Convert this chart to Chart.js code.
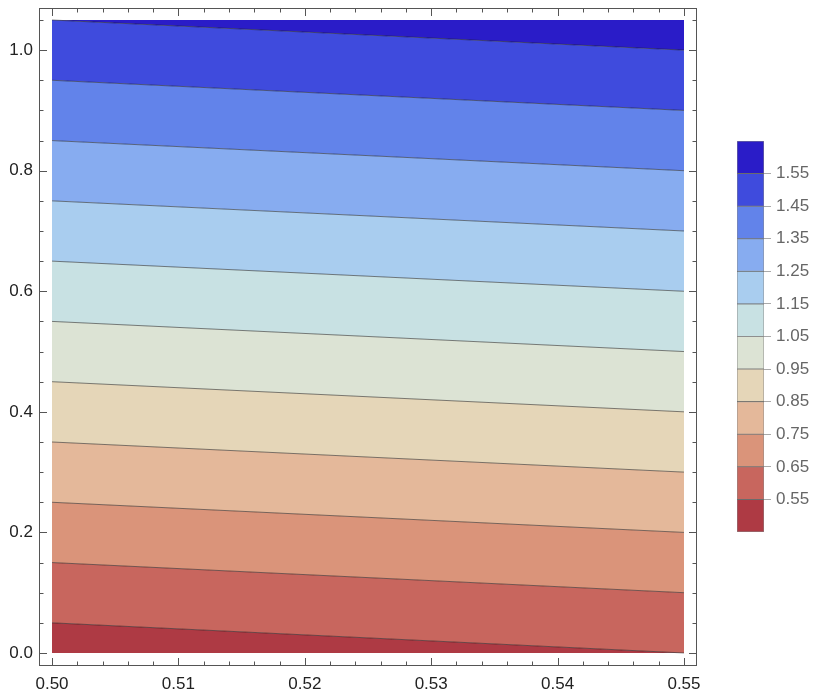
<!DOCTYPE html>
<html>
<head>
<meta charset="utf-8">
<title>Contour plot</title>
<script src="https://cdn.jsdelivr.net/npm/chart.js@4.4.1/dist/chart.umd.min.js"></script>
<style>
  html, body { margin: 0; padding: 0; background: #fff; }
  #wrap { position: relative; width: 814px; height: 691px; }
  #plot { position: absolute; left: 0; top: 0; }
  #bar { position: absolute; left: 737px; top: 131px; }
</style>
</head>
<body>
<div id="wrap">
  <canvas id="plot" width="814" height="691"></canvas>
  <canvas id="bar" width="77" height="410"></canvas>
</div>
<script>
// contour levels, and where each level line meets the left (x = 0.50) and right (x = 0.55) edge
const levels      = [0.55, 0.65, 0.75, 0.85, 0.95, 1.05, 1.15, 1.25, 1.35, 1.45, 1.55];
const levelYLeft  = [0.05, 0.15, 0.25, 0.35, 0.45, 0.55, 0.65, 0.75, 0.85, 0.95, 1.05];
const levelYRight = [0.00, 0.10, 0.20, 0.30, 0.40, 0.50, 0.60, 0.70, 0.80, 0.90, 1.00];

// plotted region
const xEdges = [0.50, 0.55];
const yEdges = [0.0, 1.05];

// band colours, lowest band (below 0.55) first
const bandColors = [
  '#ae3a44', '#c8665e', '#da947a', '#e4b89a', '#e5d6b8', '#dce3d4',
  '#c8e1e3', '#a9cdef', '#87acf0', '#6283ea', '#3f4bdd', '#2a1cc8'
];

// colour bar swatch edges (one swatch per band)
const barEdges = [0.45, 0.55, 0.65, 0.75, 0.85, 0.95, 1.05, 1.15, 1.25, 1.35, 1.45, 1.55, 1.65];

// axis tick labels
const xTicks = [0.50, 0.51, 0.52, 0.53, 0.54, 0.55];
const yTicks = [0.0, 0.2, 0.4, 0.6, 0.8, 1.0];
const barTicks = levels;

Chart.defaults.font.family = '"Liberation Sans", Arial, sans-serif';
Chart.defaults.font.size = 17;

// the bottom edge, every level line, then the top edge; each one fills down to the previous
const bounds = [{ y0: yEdges[0], y1: yEdges[0], line: false }]
  .concat(levels.map((c, i) => ({ y0: levelYLeft[i], y1: levelYRight[i], line: true })))
  .concat([{ y0: yEdges[1], y1: yEdges[1], line: false }]);

const contourSets = bounds.map((b, i) => ({
  label: i === 0 ? 'edge' : (b.line ? String(levels[i - 1]) : 'top'),
  data: [{ x: xEdges[0], y: b.y0 }, { x: xEdges[1], y: b.y1 }],
  fill: i === 0 ? false : '-1',
  backgroundColor: i === 0 ? 'rgba(0,0,0,0)' : bandColors[i - 1],
  borderColor: b.line ? 'rgba(30,30,30,0.7)' : 'rgba(0,0,0,0)',
  borderWidth: b.line ? 0.8 : 0,
  pointRadius: 0,
  tension: 0
}));

function minorTicks(from, to, step, majors) {
  const out = [];
  const n = Math.round((to - from) / step);
  for (let k = 0; k <= n; k++) {
    const v = +(from + k * step).toFixed(6);
    if (!majors.some(m => Math.abs(m - v) < 1e-9)) out.push(v);
  }
  return out;
}

// frame on all four sides with inward ticks
const framePlugin = {
  id: 'frame',
  afterDraw(chart) {
    const { ctx, chartArea: a, scales: { x, y } } = chart;
    const xMinor = minorTicks(0.50, 0.55, 0.002, xTicks);
    const yMinor = minorTicks(0.0, 1.05, 0.05, yTicks);
    ctx.save();
    ctx.strokeStyle = '#555';
    ctx.lineWidth = 1;
    ctx.strokeRect(a.left + 0.5, a.top + 0.5, a.width - 1, a.height - 1);
    ctx.beginPath();
    const xt = (v, len) => {
      const px = Math.round(x.getPixelForValue(v)) + 0.5;
      ctx.moveTo(px, a.bottom); ctx.lineTo(px, a.bottom - len);
      ctx.moveTo(px, a.top); ctx.lineTo(px, a.top + len);
    };
    const yt = (v, len) => {
      const py = Math.round(y.getPixelForValue(v)) + 0.5;
      ctx.moveTo(a.left, py); ctx.lineTo(a.left + len, py);
      ctx.moveTo(a.right, py); ctx.lineTo(a.right - len, py);
    };
    xTicks.forEach(v => xt(v, 8));
    xMinor.forEach(v => xt(v, 4.5));
    yTicks.forEach(v => yt(v, 8));
    yMinor.forEach(v => yt(v, 4.5));
    ctx.stroke();
    ctx.restore();
  }
};

new Chart(document.getElementById('plot'), {
  type: 'line',
  data: { datasets: contourSets },
  options: {
    responsive: false,
    animation: false,
    layout: { padding: { left: 0, right: 117, top: 8, bottom: 0 } },
    plugins: {
      legend: { display: false },
      tooltip: { enabled: false },
      filler: { drawTime: 'beforeDatasetsDraw' }
    },
    scales: {
      x: {
        type: 'linear',
        min: 0.49897,
        max: 0.55103,
        grid: { display: false, drawTicks: false },
        border: { display: false },
        afterBuildTicks: s => { s.ticks = xTicks.map(v => ({ value: v })); },
        afterFit: s => { s.height = 25; s.paddingLeft = 0; s.paddingRight = 0; },
        ticks: { padding: 8, color: '#222', autoSkip: false, maxRotation: 0, callback: v => v.toFixed(2) }
      },
      y: {
        type: 'linear',
        min: -0.0216,
        max: 1.0699,
        grid: { display: false, drawTicks: false },
        border: { display: false },
        afterBuildTicks: s => { s.ticks = yTicks.map(v => ({ value: v })); },
        afterFit: s => { s.width = 39; s.paddingTop = 0; s.paddingBottom = 0; },
        ticks: { padding: 6, color: '#222', autoSkip: false, callback: v => v.toFixed(1) }
      }
    }
  },
  plugins: [framePlugin]
});

// colour bar: one floating bar segment per band
new Chart(document.getElementById('bar'), {
  type: 'bar',
  data: {
    labels: [''],
    datasets: bandColors.map((c, i) => ({
      label: String(barEdges[i]),
      data: [[barEdges[i], barEdges[i + 1]]],
      backgroundColor: c,
      borderColor: 'rgba(40,40,40,0.55)',
      borderWidth: 0.8,
      borderSkipped: false,
      barPercentage: 1,
      categoryPercentage: 1
    }))
  },
  options: {
    responsive: false,
    animation: false,
    layout: { padding: { left: 0, right: 0, top: 10, bottom: 9 } },
    plugins: { legend: { display: false }, tooltip: { enabled: false } },
    scales: {
      x: { display: false, stacked: true },
      y: {
        position: 'right',
        stacked: false,
        min: barEdges[0],
        max: barEdges[barEdges.length - 1],
        grid: { drawOnChartArea: false, drawTicks: true, tickLength: 7, color: '#aaa' },
        border: { display: false },
        afterBuildTicks: s => { s.ticks = barTicks.map(v => ({ value: v })); },
        afterFit: s => { s.width = 50; s.paddingTop = 0; s.paddingBottom = 0; },
        ticks: { padding: 5, color: '#666', callback: v => v.toFixed(2) }
      }
    }
  }
});
</script>
</body>
</html>
